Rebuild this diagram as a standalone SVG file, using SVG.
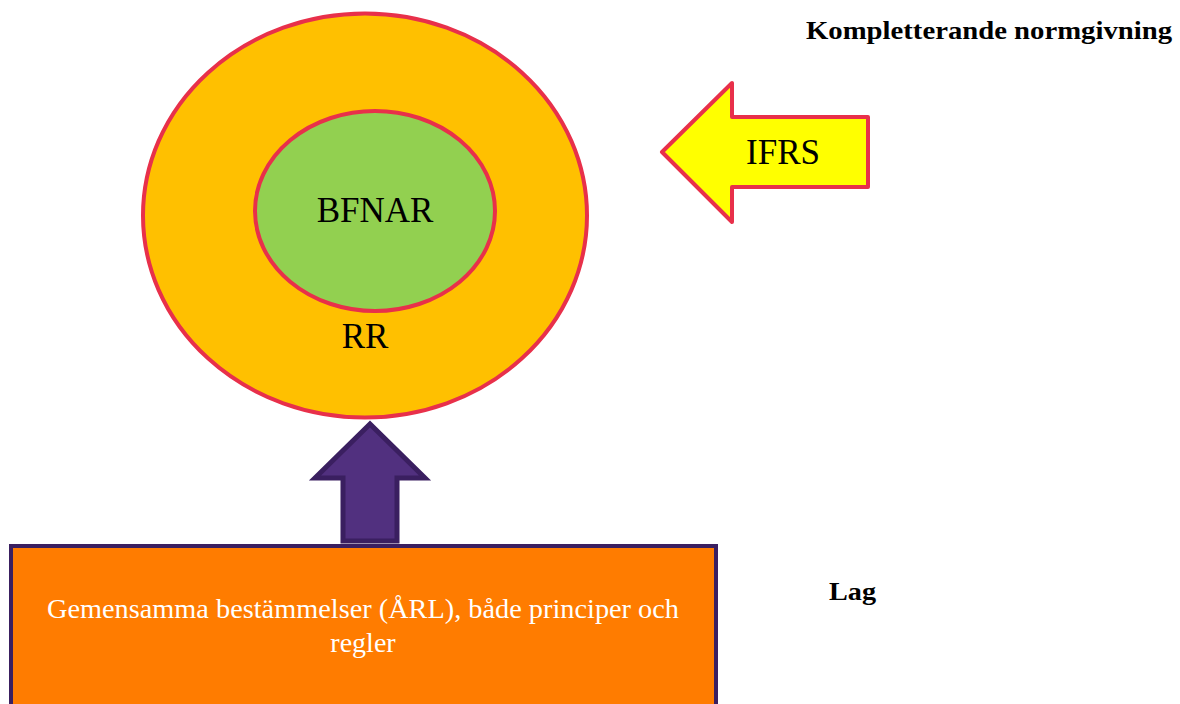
<svg xmlns="http://www.w3.org/2000/svg" width="1180" height="704" viewBox="0 0 1180 704">
<style>
.serif{font-family:"Liberation Serif","DejaVu Serif",serif}
.red{stroke:#E8304A;stroke-width:4}
.lbl{font-size:35px;fill:#000;text-anchor:middle}
.bold{font-size:26px;font-weight:bold;fill:#000}
</style>
<rect width="1180" height="704" fill="#fff"/>
<g id="rr">
<ellipse cx="365" cy="215.5" rx="222" ry="202" fill="#FFC000" class="red"/>
<text x="365" y="348" class="serif lbl">RR</text>
</g>
<g id="bfnar">
<ellipse cx="375" cy="211" rx="120" ry="100" fill="#92D050" class="red"/>
<text x="375" y="222" class="serif lbl">BFNAR</text>
</g>
<g id="ifrs">
<polygon points="662,152 732,83 732,117 868,117 868,187 732,187 732,222" fill="#FFFF00" class="red" stroke-linejoin="round"/>
<text x="783" y="164" class="serif lbl">IFRS</text>
</g>
<g id="connectors">
<polygon points="370,424 315,478 343,478 343,541 397,541 397,478 425,478" fill="#51307F" stroke="#3A1F60" stroke-width="5"/>
</g>
<g id="arl">
<rect x="11" y="546" width="705" height="170" fill="#FF7C00" stroke="#3A1F60" stroke-width="4"/>
<text x="363" y="618" class="serif" font-size="28" fill="#fff" text-anchor="middle" textLength="632" lengthAdjust="spacingAndGlyphs">Gemensamma bestämmelser (ÅRL), både principer och</text>
<text x="363" y="652" class="serif" font-size="28" fill="#fff" text-anchor="middle">regler</text>
</g>
<g id="labels">
<text x="806" y="39" class="serif bold" textLength="366" lengthAdjust="spacingAndGlyphs">Kompletterande normgivning</text>
<text x="829" y="600" class="serif bold" textLength="47" lengthAdjust="spacingAndGlyphs">Lag</text>
</g>
</svg>
